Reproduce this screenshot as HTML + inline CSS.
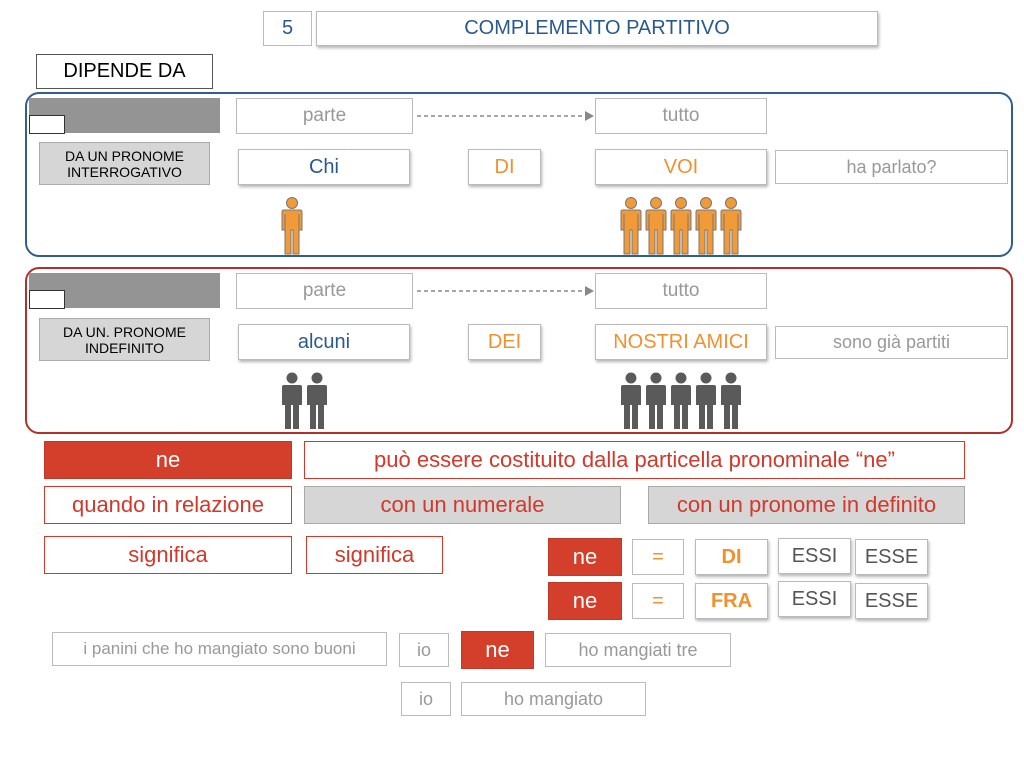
<!DOCTYPE html>
<html><head><meta charset="utf-8"><style>
body{margin:0;width:1024px;height:768px;background:#fff;position:relative;overflow:hidden;font-family:"Liberation Sans",sans-serif}
.b{position:absolute;box-sizing:border-box;border:1px solid #bbb;background:#fff;display:flex;align-items:center;justify-content:center;text-align:center;white-space:nowrap}
.sh{box-shadow:1px 2px 3px rgba(0,0,0,.3)}
.g{color:#999;font-size:19px}
.r{border-color:#d0392b;color:#d0392b;font-size:22px}
.rf{background:#d33f2a;border-color:#c0392b;color:#fff;font-size:22px}
.o{color:#f0912e;font-size:20px}
.bl{color:#2a5a8c;font-size:20px}
.gr{background:#d6d6d6;border-color:#aaa}
svg{position:absolute}
</style></head><body>
<svg width="0" height="0"><defs>
<g id="p"><circle cx="11" cy="7" r="5.5"/><path d="M3 14 h16 q2 0 2 2 v18 h-3 v-16 v40 h-6 v-24 h-2 v24 h-6 v-40 v16 h-3 v-18 q0-2 2-2z"/></g>
</defs></svg>
<div class="b" style="left:263px;top:11px;width:49px;height:35px;color:#2a5a8c;font-size:20px">5</div>
<div class="b sh" style="left:316px;top:11px;width:562px;height:35px;color:#2a5a8c;font-size:20px">COMPLEMENTO PARTITIVO</div>
<div class="b" style="left:36px;top:54px;width:177px;height:35px;border-color:#555;font-size:20px">DIPENDE DA</div>

<div style="position:absolute;left:25px;top:92px;width:988px;height:165px;border:2px solid #2f5e8f;border-radius:14px;box-sizing:border-box"></div>
<div style="position:absolute;left:29px;top:98px;width:191px;height:35px;background:#949494"></div>
<div class="b" style="left:29px;top:115px;width:36px;height:19px;border-color:#333"></div>
<div class="b gr" style="left:39px;top:142px;width:171px;height:43px;font-size:14px;line-height:16px;white-space:normal">DA UN PRONOME<br>INTERROGATIVO</div>
<div class="b g" style="left:236px;top:98px;width:177px;height:36px">parte</div>
<div class="b g" style="left:595px;top:98px;width:172px;height:36px">tutto</div>
<svg style="left:413px;top:108px" width="182" height="16"><line x1="4" y1="8" x2="172" y2="8" stroke="#888" stroke-width="1.5" stroke-dasharray="4,3"/><path d="M172 3 L181 8 L172 13z" fill="#888"/></svg>
<div class="b sh bl" style="left:238px;top:149px;width:172px;height:36px">Chi</div>
<div class="b sh o" style="left:468px;top:149px;width:73px;height:36px">DI</div>
<div class="b sh o" style="left:595px;top:149px;width:172px;height:36px">VOI</div>
<div class="b g" style="left:775px;top:150px;width:233px;height:34px;font-size:18px">ha parlato?</div>
<svg style="left:281px;top:196px" width="24" height="60" fill="#f09a38" stroke="#777" stroke-width="1"><use href="#p"/></svg>
<svg style="left:620px;top:196px" width="130" height="60" fill="#f09a38" stroke="#777" stroke-width="1"><use href="#p"/><use href="#p" x="25"/><use href="#p" x="50"/><use href="#p" x="75"/><use href="#p" x="100"/></svg>

<div style="position:absolute;left:25px;top:267px;width:988px;height:167px;border:2px solid #b0322a;border-radius:14px;box-sizing:border-box"></div>
<div style="position:absolute;left:29px;top:273px;width:191px;height:35px;background:#949494"></div>
<div class="b" style="left:29px;top:290px;width:36px;height:19px;border-color:#333"></div>
<div class="b gr" style="left:39px;top:318px;width:171px;height:43px;font-size:14px;line-height:16px">DA UN. PRONOME<br>INDEFINITO</div>
<div class="b g" style="left:236px;top:273px;width:177px;height:36px">parte</div>
<div class="b g" style="left:595px;top:273px;width:172px;height:36px">tutto</div>
<svg style="left:413px;top:283px" width="182" height="16"><line x1="4" y1="8" x2="172" y2="8" stroke="#888" stroke-width="1.5" stroke-dasharray="4,3"/><path d="M172 3 L181 8 L172 13z" fill="#888"/></svg>
<div class="b sh bl" style="left:238px;top:324px;width:172px;height:36px">alcuni</div>
<div class="b sh o" style="left:468px;top:324px;width:73px;height:36px">DEI</div>
<div class="b sh o" style="left:595px;top:324px;width:172px;height:36px">NOSTRI AMICI</div>
<div class="b g" style="left:775px;top:326px;width:233px;height:33px;font-size:18px">sono già partiti</div>
<svg style="left:281px;top:371px" width="50" height="60" fill="#5a5a5a"><use href="#p"/><use href="#p" x="25"/></svg>
<svg style="left:620px;top:371px" width="130" height="60" fill="#5a5a5a"><use href="#p"/><use href="#p" x="25"/><use href="#p" x="50"/><use href="#p" x="75"/><use href="#p" x="100"/></svg>

<div class="b rf" style="left:44px;top:441px;width:248px;height:38px">ne</div>
<div class="b r" style="left:304px;top:441px;width:661px;height:38px">può essere costituito dalla particella pronominale “ne”</div>
<div class="b r" style="left:44px;top:486px;width:248px;height:38px">quando in relazione</div>
<div class="b r gr" style="left:304px;top:486px;width:317px;height:38px">con un numerale</div>
<div class="b r gr" style="left:648px;top:486px;width:317px;height:38px">con un pronome in definito</div>
<div class="b r" style="left:44px;top:536px;width:248px;height:38px">significa</div>
<div class="b r" style="left:306px;top:536px;width:137px;height:38px">significa</div>
<div class="b rf" style="left:548px;top:538px;width:74px;height:38px">ne</div>
<div class="b o" style="left:632px;top:539px;width:52px;height:36px">=</div>
<div class="b sh o" style="left:695px;top:539px;width:73px;height:36px;font-weight:bold">DI</div>
<div class="b sh" style="left:778px;top:538px;width:73px;height:36px;color:#555;font-size:20px">ESSI</div>
<div class="b sh" style="left:855px;top:539px;width:73px;height:36px;color:#555;font-size:20px">ESSE</div>
<div class="b rf" style="left:548px;top:582px;width:74px;height:38px">ne</div>
<div class="b o" style="left:632px;top:583px;width:52px;height:36px">=</div>
<div class="b sh o" style="left:695px;top:583px;width:73px;height:36px;font-weight:bold">FRA</div>
<div class="b sh" style="left:778px;top:581px;width:73px;height:36px;color:#555;font-size:20px">ESSI</div>
<div class="b sh" style="left:855px;top:583px;width:73px;height:36px;color:#555;font-size:20px">ESSE</div>
<div class="b g" style="left:52px;top:632px;width:335px;height:34px;font-size:17px">i panini che ho mangiato sono buoni</div>
<div class="b g" style="left:399px;top:633px;width:50px;height:34px;font-size:18px">io</div>
<div class="b rf" style="left:461px;top:631px;width:73px;height:38px">ne</div>
<div class="b g" style="left:545px;top:633px;width:186px;height:34px;font-size:18px">ho mangiati tre</div>
<div class="b g" style="left:401px;top:682px;width:50px;height:34px;font-size:18px">io</div>
<div class="b g" style="left:461px;top:682px;width:185px;height:34px;font-size:18px">ho mangiato</div>
</body></html>
